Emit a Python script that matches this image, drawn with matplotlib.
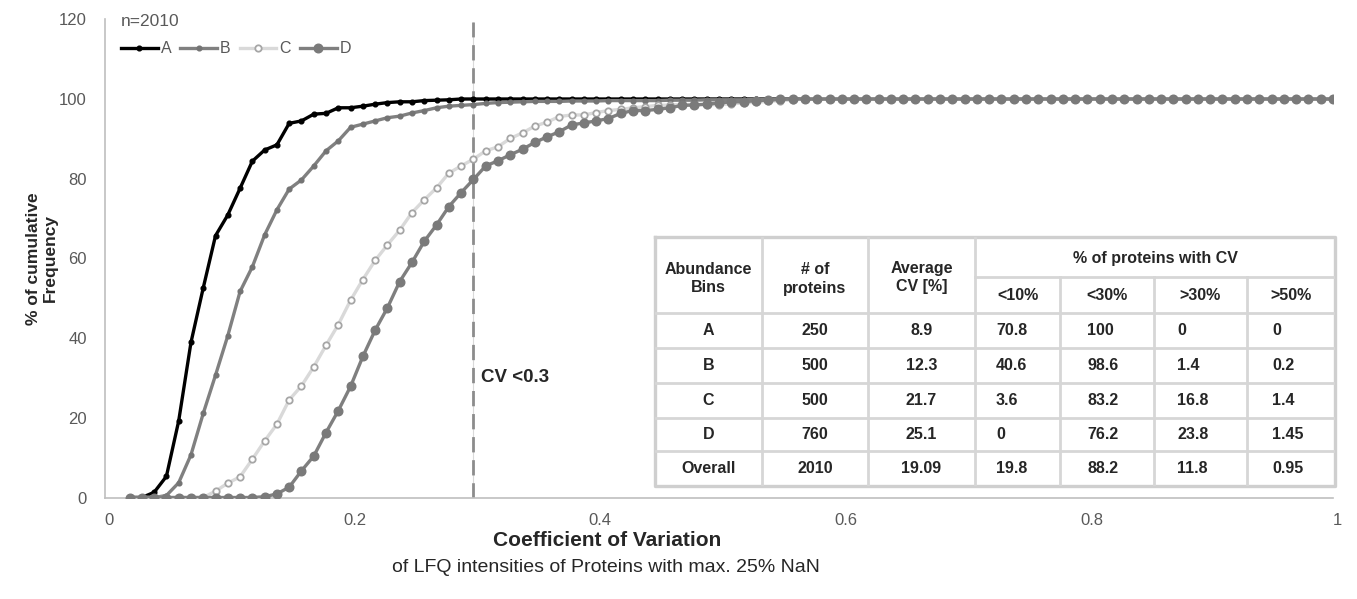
import numpy as np
import matplotlib
matplotlib.use("Agg")
import matplotlib.pyplot as plt
from matplotlib.transforms import ScaledTranslation

plt.rcParams['font.family'] = ['Liberation Sans', 'DejaVu Sans']

# ---------------- data ----------------
cv = np.round(np.arange(0.02, 1.0001, 0.01), 2)   # CV bins 0.02 ... 1.00

A = [0, 0, 1.3, 5.3, 19.2, 38.9, 52.6, 65.7, 70.9, 77.6,
     84.4, 87.2, 88.5, 93.9, 94.5, 96.2, 96.4, 97.8, 97.8, 98.2,
     98.7, 99.1, 99.3, 99.3, 99.6, 99.7, 99.8, 100, 100, 100,
     100, 100, 100, 100, 100, 100, 100, 100, 100, 100,
     100, 100, 100, 100, 100, 100, 100, 100, 100, 100,
     100, 100, 100, 100, 100, 100, 100, 100, 100, 100,
     100, 100, 100, 100, 100, 100, 100, 100, 100, 100,
     100, 100, 100, 100, 100, 100, 100, 100, 100, 100,
     100, 100, 100, 100, 100, 100, 100, 100, 100, 100,
     100, 100, 100, 100, 100, 100, 100, 100, 100]

B = [0, 0, 0, 0.5, 3.7, 10.7, 21.1, 30.7, 40.6, 51.7,
     57.9, 65.9, 72.2, 77.4, 79.7, 83.2, 87.0, 89.5, 92.9, 93.7,
     94.5, 95.3, 95.7, 96.5, 97.1, 97.8, 98.2, 98.4, 98.6, 98.9,
     99.1, 99.2, 99.3, 99.4, 99.4, 99.4, 99.5, 99.5, 99.5, 99.6,
     99.6, 99.6, 99.6, 99.6, 99.7, 99.7, 99.7, 99.8, 99.8, 99.8,
     99.8, 99.9, 99.9, 100, 100, 100, 100, 100, 100, 100,
     100, 100, 100, 100, 100, 100, 100, 100, 100, 100,
     100, 100, 100, 100, 100, 100, 100, 100, 100, 100,
     100, 100, 100, 100, 100, 100, 100, 100, 100, 100,
     100, 100, 100, 100, 100, 100, 100, 100, 100]

C = [0, 0, 0, 0, 0, 0, 0, 1.6, 3.6, 5.2,
     9.6, 14.2, 18.4, 24.5, 28.0, 32.8, 38.2, 43.4, 49.5, 54.7,
     59.5, 63.4, 67.1, 71.5, 74.7, 77.7, 81.4, 83.2, 84.9, 87.0,
     88.0, 90.1, 91.5, 93.2, 94.2, 95.6, 96.0, 96.0, 96.6, 97.1,
     97.4, 97.8, 98.1, 98.4, 98.5, 98.6, 98.6, 98.6, 98.6, 98.8,
     99.0, 99.2, 99.4, 99.6, 99.8, 100, 100, 100, 100, 100,
     100, 100, 100, 100, 100, 100, 100, 100, 100, 100,
     100, 100, 100, 100, 100, 100, 100, 100, 100, 100,
     100, 100, 100, 100, 100, 100, 100, 100, 100, 100,
     100, 100, 100, 100, 100, 100, 100, 100, 100]

D = [0, 0, 0, 0, 0, 0, 0, 0, 0, 0,
     0, 0.2, 0.9, 2.6, 6.7, 10.4, 16.3, 21.8, 27.9, 35.4,
     42.0, 47.6, 54.2, 59.0, 64.3, 68.4, 73.0, 76.5, 79.8, 83.2,
     84.5, 86.0, 87.4, 89.1, 90.5, 91.8, 93.5, 94.0, 94.5, 95.1,
     96.4, 97.1, 97.1, 97.4, 97.8, 98.4, 98.5, 98.7, 99.0, 99.3,
     99.3, 99.6, 99.7, 99.9, 100, 100, 100, 100, 100, 100,
     100, 100, 100, 100, 100, 100, 100, 100, 100, 100,
     100, 100, 100, 100, 100, 100, 100, 100, 100, 100,
     100, 100, 100, 100, 100, 100, 100, 100, 100, 100,
     100, 100, 100, 100, 100, 100, 100, 100, 100]

series_names = ["A", "B", "C", "D"]
n_total = 2010
cv_threshold = 0.3

x_ticks = [0, 0.2, 0.4, 0.6, 0.8, 1.0]
x_ticklabels = ["0", "0.2", "0.4", "0.6", "0.8", "1"]
y_ticks = [0, 20, 40, 60, 80, 100, 120]

# table contents
tbl_bins = ["A", "B", "C", "D", "Overall"]
tbl_nprot = ["250", "500", "500", "760", "2010"]
tbl_avgcv = ["8.9", "12.3", "21.7", "25.1", "19.09"]
tbl_lt10 = ["70.8", "40.6", "3.6", "0", "19.8"]
tbl_lt30 = ["100", "98.6", "83.2", "76.2", "88.2"]
tbl_gt30 = ["0", "1.4", "16.8", "23.8", "11.8"]
tbl_gt50 = ["0", "0.2", "1.4", "1.45", "0.95"]
tbl_sub_headers = ["<10%", "<30%", ">30%", ">50%"]

# ---------------- figure ----------------
W, H = 1357, 599
fig = plt.figure(figsize=(W / 100, H / 100), dpi=100)

def fx(px):
    return px / W

def fy(py):
    return 1 - py / H

ax_l, ax_r, ax_t, ax_b = 105, 1333, 19.3, 497.5
ax = fig.add_axes([fx(ax_l), fy(ax_b), fx(ax_r - ax_l), (ax_b - ax_t) / H])
ax.set_xlim(0, 1)
ax.set_ylim(0, 120)

tick_col = "#595959"
for s in ["top", "right"]:
    ax.spines[s].set_visible(False)
for s in ["left", "bottom"]:
    ax.spines[s].set_color("#bfbfbf")
    ax.spines[s].set_linewidth(1.2)
ax.set_xticks(x_ticks)
ax.set_xticklabels(x_ticklabels)
ax.set_yticks(y_ticks)
ax.tick_params(axis="both", length=0, colors=tick_col, labelsize=12)
ax.tick_params(axis="x", pad=11)
ax.tick_params(axis="y", pad=13)
shift = ScaledTranslation(4 / 100, 0, fig.dpi_scale_trans)
for lab in ax.get_xticklabels():
    lab.set_transform(lab.get_transform() + shift)

# threshold line
ax.vlines(cv_threshold, 0, 119.3, colors="#d9d9d9", linewidth=0.8, zorder=1)
ax.vlines(cv_threshold, 0, 119.3, colors="#8c8c8c", linewidth=2.0,
          linestyles=(0, (5.5, 2.8)), zorder=1)
ax.text(cv_threshold + 0.006, 30, "CV <0.3", fontsize=13.5, fontweight="bold",
        color="#262626", ha="left", va="center")

# curves
ax.plot(cv, A, color="black", lw=2.4, marker="o", ms=3.4,
        mfc="black", mec="black", label="A", zorder=3)
ax.plot(cv, B, color="#808080", lw=2.4, marker="o", ms=3.4,
        mfc="#747474", mec="#747474", label="B", zorder=4)
ax.plot(cv, C, color="#d9d9d9", lw=2.4, marker="o", ms=4.6,
        mfc="white", mec="#a6a6a6", mew=1.3, label="C", zorder=5)
ax.plot(cv, D, color="#7f7f7f", lw=2.4, marker="o", ms=6.2,
        mfc="#7a7a7a", mec="#7a7a7a", label="D", zorder=6)

leg = ax.legend(loc="upper left", bbox_to_anchor=(0.013, 1.012), ncol=4,
                frameon=False, fontsize=11.5, title=f"n={n_total}",
                title_fontsize=12.5, handlelength=2.3, handletextpad=0.2,
                columnspacing=0.55, borderpad=0, borderaxespad=0,
                alignment="left", labelspacing=0.8)
for t in leg.get_texts():
    t.set_color(tick_col)
leg.get_title().set_color(tick_col)

# axis labels
ax.text(-0.0513, 0.5, "% of cumulative\nFrequency", transform=ax.transAxes,
        rotation=90, ha="center", va="center", fontsize=12.5,
        fontweight="bold", color="#262626", multialignment="center",
        linespacing=1.15)
fig.text(fx(607), fy(541), "Coefficient of Variation", ha="center",
         va="center", fontsize=15, fontweight="bold", color="#262626")
fig.text(fx(606), fy(567), "of LFQ intensities of Proteins with max. 25% NaN",
         ha="center", va="center", fontsize=14, color="#262626")

# ---------------- table ----------------
t_l, t_r, t_t, t_b = 655, 1335, 237, 486
tax = fig.add_axes([fx(t_l), fy(t_b), fx(t_r - t_l), (t_b - t_t) / H])
tw, th = t_r - t_l, t_b - t_t
tax.set_xlim(0, tw)
tax.set_ylim(th, 0)
tax.axis("off")
tax.add_patch(plt.Rectangle((0, 0), tw, th, facecolor="white",
                            edgecolor="none", zorder=0))

col_edges = [0, 107, 213, 320, 405, 499, 592, tw]
row_edges = [0, 40, 76, 111, 146, 181, 214, th]
lc, lw = "#d6d6d6", 2.0

tax.plot([0, tw, tw, 0, 0], [0, 0, th, th, 0], color="#cfcfcf", lw=2.4,
         solid_capstyle="projecting", clip_on=False)
for xe in col_edges[1:4]:
    tax.plot([xe, xe], [0, th], color=lc, lw=lw)
for xe in col_edges[4:7]:
    tax.plot([xe, xe], [row_edges[1], th], color=lc, lw=lw)
tax.plot([col_edges[3], tw], [row_edges[1]] * 2, color=lc, lw=lw)
for ye in row_edges[2:7]:
    tax.plot([0, tw], [ye, ye], color=lc, lw=lw)

tc = "#262626"
tfs = 11.5
hdr_y = 42
tax.text((col_edges[0] + col_edges[1]) / 2, hdr_y, "Abundance\nBins",
         ha="center", va="center", fontsize=tfs, fontweight="bold", color=tc,
         linespacing=1.25)
tax.text((col_edges[1] + col_edges[2]) / 2, hdr_y, "# of\nproteins",
         ha="center", va="center", fontsize=tfs, fontweight="bold", color=tc,
         linespacing=1.25)
tax.text((col_edges[2] + col_edges[3]) / 2, hdr_y - 2, "Average\nCV [%]",
         ha="center", va="center", fontsize=tfs, fontweight="bold", color=tc,
         linespacing=1.25)
tax.text((col_edges[3] + tw) / 2, 21, "% of proteins with CV",
         ha="center", va="center", fontsize=tfs, fontweight="bold", color=tc)
for i, sh in enumerate(tbl_sub_headers):
    tax.text((col_edges[3 + i] + col_edges[4 + i]) / 2, 58, sh,
             ha="center", va="center", fontsize=tfs, fontweight="bold",
             color=tc)

columns = [tbl_bins, tbl_nprot, tbl_avgcv, tbl_lt10, tbl_lt30, tbl_gt30,
           tbl_gt50]
left_pad = [None, None, None, 21, 27, 23, 25]
for ci, col in enumerate(columns):
    for ri, val in enumerate(col):
        yc = (row_edges[2 + ri] + row_edges[3 + ri]) / 2
        if left_pad[ci] is None:
            xc = (col_edges[ci] + col_edges[ci + 1]) / 2
            ha = "center"
        else:
            xc = col_edges[ci] + left_pad[ci]
            ha = "left"
        tax.text(xc, yc, val, ha=ha, va="center", fontsize=tfs,
                 fontweight="bold", color=tc)

fig.savefig("out.png", dpi=100)
